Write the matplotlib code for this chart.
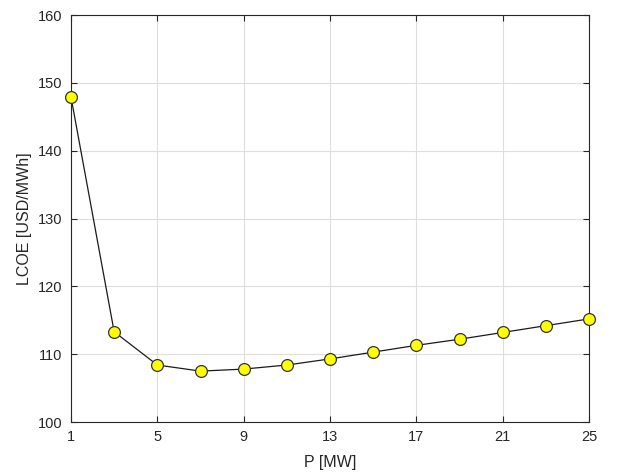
import matplotlib
matplotlib.use("Agg")
import matplotlib.pyplot as plt

P_MW = [1, 3, 5, 7, 9, 11, 13, 15, 17, 19, 21, 23, 25]
LCOE = [147.9, 113.3, 108.4, 107.5, 107.8, 108.4, 109.3, 110.3, 111.3, 112.2, 113.2, 114.2, 115.2]
x_ticks = [1, 5, 9, 13, 17, 21, 25]
y_ticks = [100, 110, 120, 130, 140, 150, 160]

plt.rcParams['font.family'] = ['Liberation Sans', 'DejaVu Sans']

fig = plt.figure(figsize=(6.18, 4.73), dpi=100)
ax = fig.add_axes([71/618, 1-422/473, (589-71)/618, (422-15)/473])

ax.plot(P_MW, LCOE, color='#1a1a1a', linewidth=0.9, marker='o', markersize=8.5,
        markerfacecolor='#ffff00', markeredgecolor='#333333', markeredgewidth=0.9,
        clip_on=False, zorder=3)

ax.set_xlim(1, 25)
ax.set_ylim(100, 160)
ax.set_xticks(x_ticks)
ax.set_yticks(y_ticks)
ax.grid(True, color='#dedede', linewidth=0.8)
ax.set_axisbelow(True)
ax.tick_params(direction='in', length=4, width=0.8, colors='#262626', labelsize=10.5, pad=6,
               top=True, right=True)
for s in ax.spines.values():
    s.set_color('#262626')
    s.set_linewidth(0.8)
ax.set_xlabel('P [MW]', fontsize=11.5, color='#262626', labelpad=8)
ax.set_ylabel('LCOE [USD/MWh]', fontsize=11.5, color='#262626', labelpad=4)

fig.savefig('out.png', dpi=100)
